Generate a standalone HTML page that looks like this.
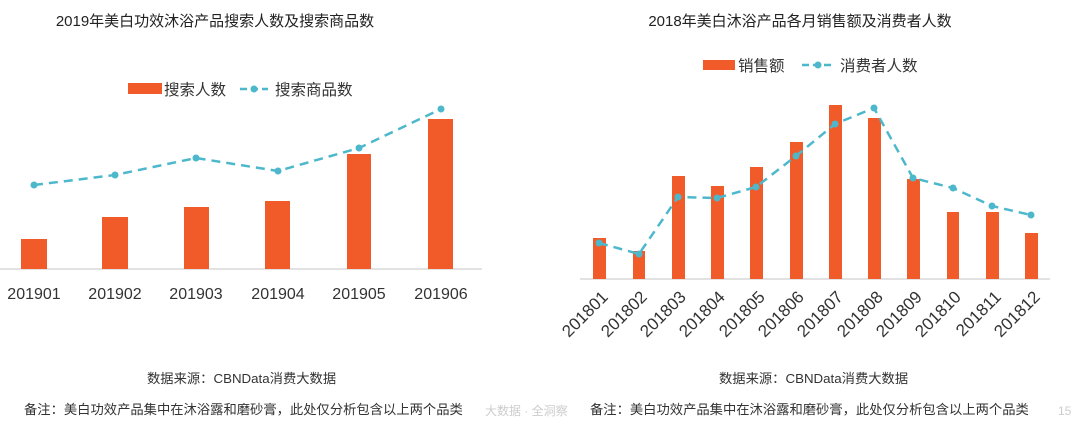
<!DOCTYPE html>
<html><head><meta charset="utf-8"><style>
html,body{margin:0;padding:0;background:#fff;}
svg{display:block;font-family:"Liberation Sans","Noto Sans CJK SC",sans-serif;}
</style></head><body>
<svg width="1074" height="437" viewBox="0 0 1074 437" xmlns="http://www.w3.org/2000/svg">
<rect width="1074" height="437" fill="#fff"/>
<text x="215" y="26" font-size="15" fill="#222" text-anchor="middle">2019年美白功效沐浴产品搜索人数及搜索商品数</text>
<text x="800" y="26" font-size="15" fill="#222" text-anchor="middle">2018年美白沐浴产品各月销售额及消费者人数</text>
<rect x="128" y="83" width="34" height="11" fill="#f15a29"/>
<text x="164" y="95" font-size="15.5" fill="#333">搜索人数</text>
<line x1="240" y1="89" x2="268" y2="89" stroke="#4db8cc" stroke-width="2.5" stroke-dasharray="7,4"/>
<circle cx="254" cy="89" r="3.5" fill="#4db8cc"/>
<text x="275" y="95" font-size="15.5" fill="#333">搜索商品数</text>
<line x1="0" y1="269" x2="482" y2="269" stroke="#d9d9d9" stroke-width="1.5"/>
<g fill="#f15a29">
<rect x="21" y="239" width="26" height="30"/>
<rect x="102" y="217" width="26" height="52"/>
<rect x="184" y="207" width="25" height="62"/>
<rect x="265" y="201" width="25" height="68"/>
<rect x="347" y="154" width="24" height="115"/>
<rect x="428" y="119" width="25" height="150"/>
</g>
<polyline points="34,185 115,175 196,158 278,171 359,148 441,109" fill="none" stroke="#4db8cc" stroke-width="2.5" stroke-dasharray="9,6"/>
<g fill="#4db8cc">
<circle cx="34" cy="185" r="3.5"/><circle cx="115" cy="175" r="3.5"/><circle cx="196" cy="158" r="3.5"/>
<circle cx="278" cy="171" r="3.5"/><circle cx="359" cy="148" r="3.5"/><circle cx="441" cy="109" r="3.5"/>
</g>
<g font-size="16" fill="#333" text-anchor="middle">
<text x="34" y="299">201901</text><text x="115" y="299">201902</text><text x="196" y="299">201903</text>
<text x="278" y="299">201904</text><text x="359" y="299">201905</text><text x="441" y="299">201906</text>
</g>
<rect x="703" y="60" width="32" height="10" fill="#f15a29"/>
<text x="738" y="71" font-size="15.5" fill="#333">销售额</text>
<line x1="802" y1="65" x2="834" y2="65" stroke="#4db8cc" stroke-width="2.5" stroke-dasharray="7,4"/>
<circle cx="818" cy="65" r="3.5" fill="#4db8cc"/>
<text x="840" y="71" font-size="15.5" fill="#333">消费者人数</text>
<line x1="580" y1="279" x2="1050" y2="279" stroke="#d9d9d9" stroke-width="1.5"/>
<g fill="#f15a29">
<rect x="593" y="238" width="13" height="41"/>
<rect x="633" y="251" width="12" height="28"/>
<rect x="672" y="176" width="13" height="103"/>
<rect x="711" y="186" width="13" height="93"/>
<rect x="750" y="167" width="13" height="112"/>
<rect x="790" y="142" width="13" height="137"/>
<rect x="829" y="105" width="13" height="174"/>
<rect x="868" y="118" width="13" height="161"/>
<rect x="907" y="179" width="13" height="100"/>
<rect x="947" y="212" width="12" height="67"/>
<rect x="986" y="212" width="13" height="67"/>
<rect x="1025" y="233" width="13" height="46"/>
</g>
<polyline points="599,243 639,254 678,197 717,198 756,187 796,156 835,124 874,108 913,178 953,188 992,206 1031,215" fill="none" stroke="#4db8cc" stroke-width="2.5" stroke-dasharray="9,6"/>
<g fill="#4db8cc">
<circle cx="599" cy="243" r="3.5"/><circle cx="639" cy="254" r="3.5"/><circle cx="678" cy="197" r="3.5"/>
<circle cx="717" cy="198" r="3.5"/><circle cx="756" cy="187" r="3.5"/><circle cx="796" cy="156" r="3.5"/>
<circle cx="835" cy="124" r="3.5"/><circle cx="874" cy="108" r="3.5"/><circle cx="913" cy="178" r="3.5"/>
<circle cx="953" cy="188" r="3.5"/><circle cx="992" cy="206" r="3.5"/><circle cx="1031" cy="215" r="3.5"/>
</g>
<g font-size="17" fill="#333" text-anchor="end">
<text transform="translate(609,298) rotate(-45)">201801</text>
<text transform="translate(648,298) rotate(-45)">201802</text>
<text transform="translate(687,298) rotate(-45)">201803</text>
<text transform="translate(726,298) rotate(-45)">201804</text>
<text transform="translate(766,298) rotate(-45)">201805</text>
<text transform="translate(805,298) rotate(-45)">201806</text>
<text transform="translate(844,298) rotate(-45)">201807</text>
<text transform="translate(884,298) rotate(-45)">201808</text>
<text transform="translate(923,298) rotate(-45)">201809</text>
<text transform="translate(962,298) rotate(-45)">201810</text>
<text transform="translate(1002,298) rotate(-45)">201811</text>
<text transform="translate(1041,298) rotate(-45)">201812</text>
</g>
<g font-size="13.3" fill="#333">
<text x="147" y="383">数据来源：CBNData消费大数据</text>
<text x="24" y="414">备注：美白功效产品集中在沐浴露和磨砂膏，此处仅分析包含以上两个品类</text>
<text x="719" y="383">数据来源：CBNData消费大数据</text>
<text x="590" y="414">备注：美白功效产品集中在沐浴露和磨砂膏，此处仅分析包含以上两个品类</text>
</g>
<text x="485" y="415" font-size="12" fill="#ccc">大数据 · 全洞察</text>
<text x="1058" y="415" font-size="12" fill="#ccc">15</text>
</svg>
</body></html>
